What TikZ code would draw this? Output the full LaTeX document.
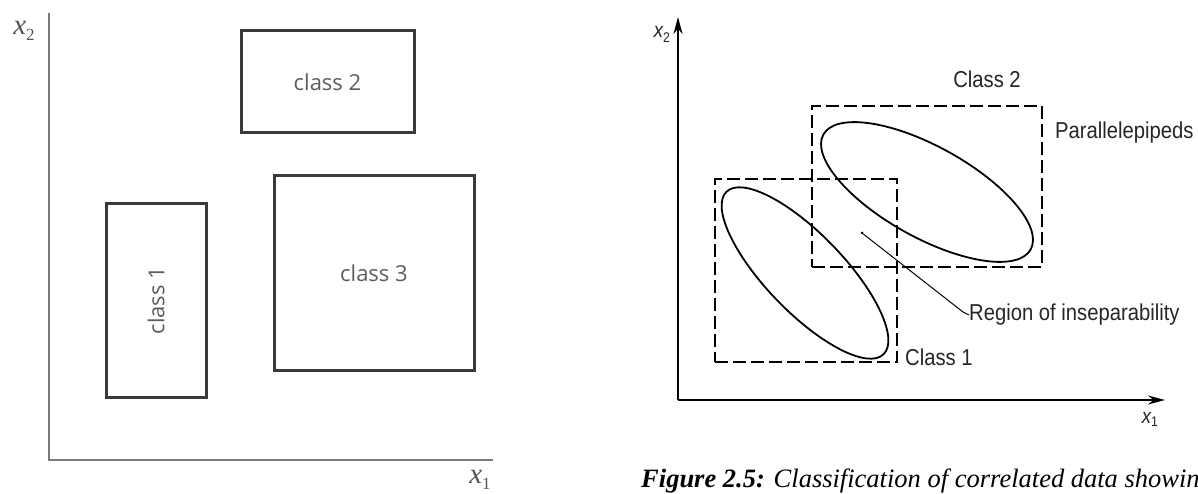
\documentclass[tikz,border=0pt]{standalone}
\usepackage{fontspec}
\usetikzlibrary{shapes.geometric,arrows.meta}
\newfontfamily\opensans{Open Sans}
\newfontfamily\dinfont[FakeStretch=0.88]{Liberation Sans}
\newfontfamily\capfont{Liberation Serif}
\definecolor{lgtext}{HTML}{5C5C5C}
\definecolor{lgbox}{HTML}{3A3A3A}
\definecolor{lgaxis}{HTML}{7A7A7A}
\tikzset{
  classbox/.style={draw=lgbox, line width=3pt, rectangle, inner sep=0pt,
    font=\opensans\fontsize{22}{22}\selectfont, text=lgtext},
  laxis/.style={draw=lgaxis, line width=1.6pt},
  laxlabel/.style={text=lgtext!90!black, font=\capfont\itshape\fontsize{29}{29}\selectfont, inner sep=0pt},
  dashbox/.style={draw, line width=2pt, dash pattern=on 13pt off 5pt, rectangle, inner sep=0pt},
  cluster/.style={draw, line width=1.8pt, ellipse, inner sep=0pt},
  raxis/.style={draw, line width=2.3pt, -{Stealth[length=17pt,width=9pt]}},
  rlabel/.style={font=\dinfont\fontsize{23}{23}\selectfont, inner sep=0pt, text=black!85},
  raxlabel/.style={font=\dinfont\itshape\fontsize{21}{21}\selectfont, inner sep=0pt, text=black!85},
}
\begin{document}
\begin{tikzpicture}[x=1pt,y=-1pt]
\useasboundingbox (0,0) rectangle (1198,494);
\clip (0,0) rectangle (1198,494);
% ---------- left panel ----------
\coordinate (ltop) at (49,13);
\coordinate (lorig) at (49,460);
\coordinate (lright) at (493,460);
\draw[laxis] (ltop) -- (lorig) -- (lright);
\node[laxlabel] (lx2) at (24,31) {x\raisebox{-6pt}{\upshape\fontsize{17}{17}\selectfont 2}};
\node[laxlabel] (lx1) at (480,480) {x\raisebox{-6pt}{\upshape\fontsize{17}{17}\selectfont 1}};
\node[classbox, minimum width=173pt, minimum height=102pt] (c2) at (327.5,82) {class 2};
\node[classbox, minimum width=200pt, minimum height=194pt] (c3) at (374,273) {class 3};
\node[classbox, minimum width=100pt, minimum height=194pt] (c1box) at (156,300.5) {};
\node[text=lgtext, font=\opensans\fontsize{22}{22}\selectfont, rotate=90] (c1) at (c1box) {class 1};
% ---------- right panel ----------
\coordinate (rorig) at (678,400);
\coordinate (rtop) at (678,17);
\coordinate (rright) at (1165,400);
\draw[raxis] (rorig) -- (rtop);
\draw[raxis] (rorig) -- (rright);
\node[raxlabel] (rx2) at (662,34) {x\raisebox{-5pt}{\fontsize{14}{14}\selectfont\upshape 2}};
\node[raxlabel] (rx1) at (1150,419) {x\raisebox{-3pt}{\fontsize{14}{14}\selectfont\upshape 1}};
\node[dashbox, minimum width=230pt, minimum height=161pt] (b2) at (927,186.5) {};
\node[dashbox, minimum width=182pt, minimum height=183pt] (b1) at (806,270.5) {};
\node[cluster, minimum width=237pt, minimum height=91pt, rotate=-29] (e2) at (927,192) {};
\node[cluster, minimum width=226pt, minimum height=78pt, rotate=-46] (e1) at (805,273) {};
\node[rlabel] (lc2) at (987,79) {Class 2};
\node[rlabel, anchor=west] (lpar) at (1055,133) {Parallelepipeds};
\node[rlabel, anchor=west] (lc1) at (905,357) {Class 1};
\node[rlabel, anchor=west] (lreg) at (969,315) {Region of inseparability};
\node[circle, fill, inner sep=0pt, minimum size=3pt] (dot) at (862,233) {};
\coordinate (bend) at (963,312);
\draw[line width=1pt] (dot) -- (bend) -- (lreg.west);
% caption (cut off at the right edge, as in the reference)
\node[anchor=base west, inner sep=0pt, font=\capfont\itshape\fontsize{26.5}{26.5}\selectfont] (cap) at (641,487)
  {\textbf{Figure 2.5:} Classification of correlated data showing};
\end{tikzpicture}
\end{document}
